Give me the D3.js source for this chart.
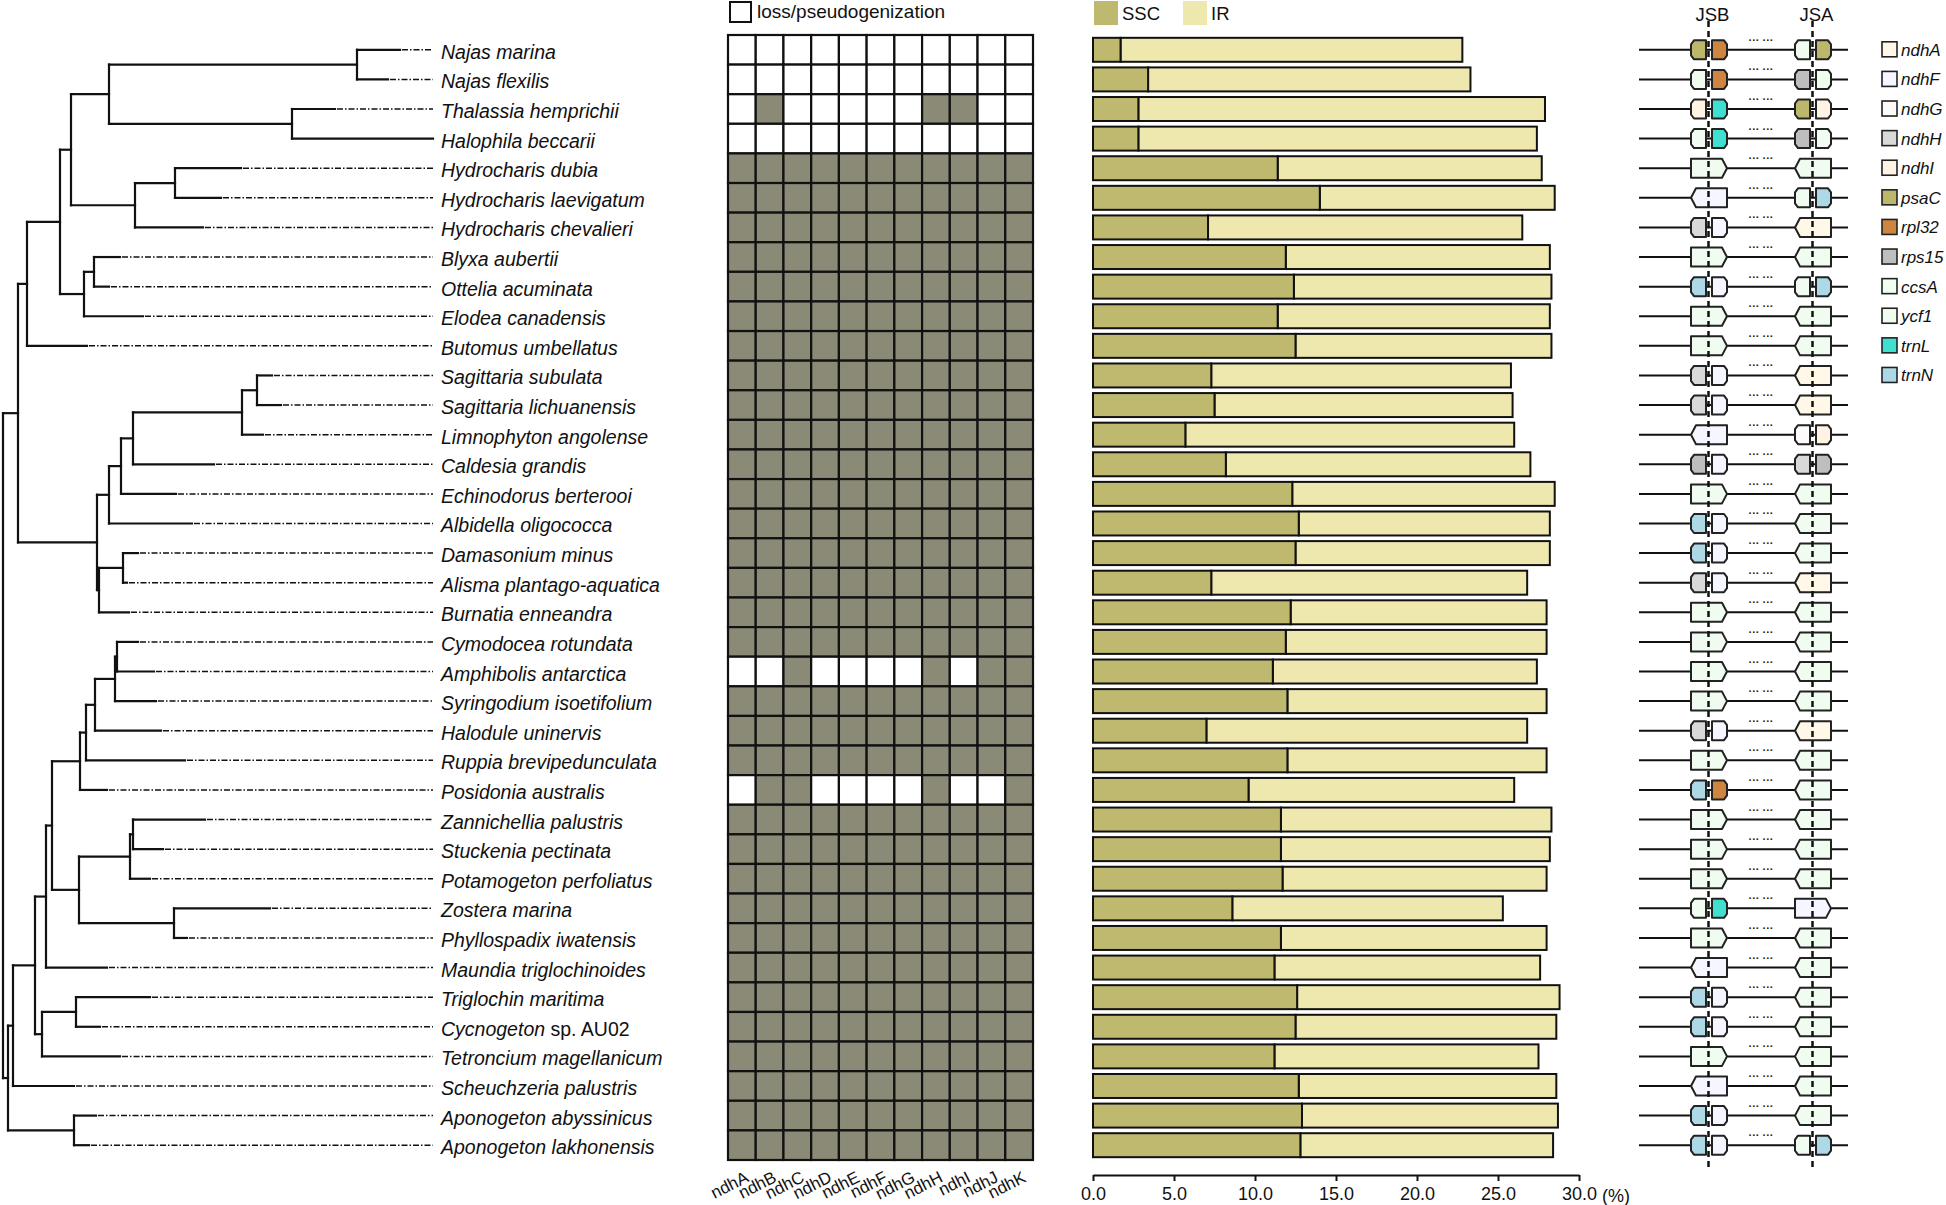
<!DOCTYPE html>
<html>
<head>
<meta charset="utf-8">
<script src="https://cdn.jsdelivr.net/npm/d3@7"></script>
<style>
  body { margin: 0; background: #fff; }
  svg { font-family: "Liberation Sans", Arial, sans-serif; }
</style>
</head>
<body>
<div id="chart"></div>
<script>
// rows, top to bottom
const species = [
  "Najas marina", "Najas flexilis", "Thalassia hemprichii", "Halophila beccarii",
  "Hydrocharis dubia", "Hydrocharis laevigatum", "Hydrocharis chevalieri",
  "Blyxa aubertii", "Ottelia acuminata", "Elodea canadensis", "Butomus umbellatus",
  "Sagittaria subulata", "Sagittaria lichuanensis", "Limnophyton angolense",
  "Caldesia grandis", "Echinodorus berterooi", "Albidella oligococca",
  "Damasonium minus", "Alisma plantago-aquatica", "Burnatia enneandra",
  "Cymodocea rotundata", "Amphibolis antarctica", "Syringodium isoetifolium",
  "Halodule uninervis", "Ruppia brevipedunculata", "Posidonia australis",
  "Zannichellia palustris", "Stuckenia pectinata", "Potamogeton perfoliatus",
  "Zostera marina", "Phyllospadix iwatensis", "Maundia triglochinoides",
  "Triglochin maritima", "Cycnogeton sp. AU02", "Tetroncium magellanicum",
  "Scheuchzeria palustris", "Aponogeton abyssinicus", "Aponogeton lakhonensis"
];

// tree with branch lengths
const newick = "((" +
  "(((((Najas marina:43,Najas flexilis:31):248,(Thalassia hemprichii:43,Halophila beccarii:141):183):38," +
  "((Hydrocharis dubia:66,Hydrocharis laevigatum:46):40,Hydrocharis chevalieri:68):64):11," +
  "((Blyxa aubertii:26,Ottelia acuminata:15):10,Elodea canadensis:59):24):33,Butomus umbellatus:60):9," +
  "((((((Sagittaria subulata:15,Sagittaria lichuanensis:24):15,Limnophyton angolense:21):109,Caldesia grandis:81):12," +
  "Echinodorus berterooi:55):12,Albidella oligococca:83):12," +
  "((Damasonium minus:15,Alisma plantago-aquatica:4):24,Burnatia enneandra:30):2):79):15," +
  "((((((((((Cymodocea rotundata:21,Amphibolis antarctica:37):2,Syringodium isoetifolium:41):20,Halodule uninervis:66):9," +
  "Ruppia brevipedunculata:99):6,Posidonia australis:27):28," +
  "(((Zannichellia palustris:72,Stuckenia pectinata:30):3,Potamogeton perfoliatus:20):51," +
  "(Zostera marina:96,Phyllospadix iwatensis:13):95):27):6,Maundia triglochinoides:61):11," +
  "((Triglochin maritima:74,Cycnogeton sp. AU02:24):34,Tetroncium magellanicum:78):7):22," +
  "Scheuchzeria palustris:61):5,(Aponogeton abyssinicus:22,Aponogeton lakhonensis:15):66):5);";

// ndh genes, 1 = present, 0 = loss/pseudogenization
const ndhGenes = ["ndhA","ndhB","ndhC","ndhD","ndhE","ndhF","ndhG","ndhH","ndhI","ndhJ","ndhK"];
const ndhPresence = [
  "00000000000","00000000000","01000001100","00000000000",
  "11111111111","11111111111","11111111111","11111111111","11111111111",
  "11111111111","11111111111","11111111111","11111111111","11111111111",
  "11111111111","11111111111","11111111111","11111111111","11111111111",
  "11111111111","11111111111","00100001011","11111111111","11111111111",
  "11111111111","01100001001","11111111111","11111111111","11111111111",
  "11111111111","11111111111","11111111111","11111111111","11111111111",
  "11111111111","11111111111","11111111111","11111111111"
];

// percent of plastome
const sscPct = [1.7,3.4,2.8,2.8,11.4,14.0,7.1,11.9,12.4,11.4,12.5,7.3,7.5,5.7,8.2,12.3,12.7,12.5,7.3,12.2,
                11.9,11.1,12.0,7.0,12.0,9.6,11.6,11.6,11.7,8.6,11.6,11.2,12.6,12.5,11.2,12.7,12.9,12.8];
const irPct  = [21.1,19.9,25.1,24.6,16.3,14.5,19.4,16.3,15.9,16.8,15.8,18.5,18.4,20.3,18.8,16.2,15.5,15.7,19.5,15.8,
                16.1,16.3,16.0,19.8,16.0,16.4,16.7,16.6,16.3,16.7,16.4,16.4,16.2,16.1,16.3,15.9,15.8,15.6];
const pctTicks = [0, 5, 10, 15, 20, 25, 30];

// genes at the junctions; "gene>" / "<gene" = one gene spanning the junction
const jsbGenes = [
  ["psaC","rpl32"],["ycf1","rpl32"],["ndhI","trnL"],["ycf1","trnL"],"ycf1>","<ndhF",["ndhH","ndhF"],
  "ycf1>",["trnN","ndhF"],"ycf1>","ycf1>",["ndhH","ndhF"],["ndhH","ndhF"],"<ndhF",["rps15","ndhF"],
  "ycf1>",["trnN","ndhF"],["trnN","ndhF"],["ndhH","ndhF"],"ycf1>","ycf1>","ycf1>","ycf1>",["ndhH","ndhF"],
  "ycf1>",["trnN","rpl32"],"ycf1>","ycf1>","ycf1>",["ycf1","trnL"],"ycf1>","<ndhF",["trnN","ndhF"],
  ["trnN","ndhF"],"ycf1>","<ndhF",["trnN","ndhF"],["trnN","ndhF"]
];
const jsaGenes = [
  ["ycf1","psaC"],["rps15","ycf1"],["psaC","ndhI"],["rps15","ycf1"],"<ycf1",["ycf1","trnN"],"<ndhA",
  "<ycf1",["ycf1","trnN"],"<ycf1","<ycf1","<ndhA","<ndhA",["ndhG","ndhI"],["ndhH","rps15"],
  "<ycf1","<ycf1","<ycf1","<ndhA","<ycf1","<ycf1","<ycf1","<ycf1","<ndhA",
  "<ycf1","<ycf1","<ycf1","<ycf1","<ycf1","ndhF>","<ycf1","<ycf1","<ycf1",
  "<ycf1","<ycf1","<ycf1","<ycf1",["ycf1","trnN"]
];
const legendGenes  = ["ndhA","ndhF","ndhG","ndhH","ndhI","psaC","rpl32","rps15","ccsA","ycf1","trnL","trnN"];
const legendColors = ["#fff7e8","#f5f6ff","#fffafa","#d9d9d9","#fff4e3","#bdb76b","#cd853f","#bebebe","#f0fff0","#f1fcf1","#40e0d0","#add8e6"];

const W = 1946, H = 1205;
const svg = d3.select("#chart").append("svg").attr("width", W).attr("height", H);
svg.append("rect").attr("width", W).attr("height", H).attr("fill", "#fff");

const rowScale = d3.scaleBand().domain(species).range([35, 1160]);
const barScale = d3.scaleBand().domain(species).range([35, 1160]).paddingInner(0.19).paddingOuter(0.095);
const rowY = s => rowScale(s) + rowScale.bandwidth() / 2;

// ---------- tree ----------
function parseNewick(s) {
  let i = 0;
  function node() {
    const n = {};
    if (s[i] === "(") {
      n.children = [];
      i++;
      n.children.push(node());
      while (s[i] === ",") { i++; n.children.push(node()); }
      i++;
    }
    let name = "";
    while (i < s.length && !":,();".includes(s[i])) name += s[i++];
    n.name = name.trim();
    if (s[i] === ":") {
      i++;
      let num = "";
      while (i < s.length && !",();".includes(s[i])) num += s[i++];
      n.length = +num;
    }
    return n;
  }
  return node();
}

const root = d3.hierarchy(parseNewick(newick));
root.eachBefore(d => d.len = (d.parent ? d.parent.len : 0) + (d.data.length || 0));
root.eachAfter(d => {
  d.yy = d.children ? (d.children[0].yy + d.children[d.children.length - 1].yy) / 2 : rowY(d.data.name);
});
const maxLen = d3.max(root.leaves(), d => d.len);
const treeX = d3.scaleLinear().domain([0, maxLen]).range([3, 433]);

const gTree = svg.append("g");
gTree.selectAll("path.h").data(root.descendants().filter(d => d.parent)).enter()
  .append("path")
  .attr("d", d => `M${treeX(d.parent.len)},${d.yy}H${treeX(d.len)}`)
  .attr("stroke", "#111").attr("stroke-width", 2.2).attr("fill", "none").attr("stroke-linecap", "square");
gTree.selectAll("path.v").data(root.descendants().filter(d => d.children)).enter()
  .append("path")
  .attr("d", d => `M${treeX(d.len)},${d.children[0].yy}V${d.children[d.children.length - 1].yy}`)
  .attr("stroke", "#111").attr("stroke-width", 2.2).attr("fill", "none").attr("stroke-linecap", "square");
gTree.selectAll("path.ext").data(root.leaves().filter(d => d.len < maxLen)).enter()
  .append("path")
  .attr("d", d => `M${treeX(d.len) + 2},${d.yy}H${treeX(maxLen)}`)
  .attr("stroke", "#111").attr("stroke-width", 1.5).attr("fill", "none")
  .attr("stroke-dasharray", "6,2,1.5,2");

const labels = gTree.selectAll("text.sp").data(species).enter()
  .append("text")
  .attr("x", 441).attr("y", d => rowY(d) + 9)
  .attr("font-size", 19.5).attr("fill", "#111");
labels.each(function(d) {
  const t = d3.select(this);
  const m = d.match(/^(.*?)( sp\. .*)$/);
  if (m) {
    t.append("tspan").attr("font-style", "italic").text(m[1]);
    t.append("tspan").text(m[2]);
  } else {
    t.append("tspan").attr("font-style", "italic").text(d);
  }
});

// ---------- ndh heatmap ----------
const colScale = d3.scaleBand().domain(ndhGenes).range([728, 1033]);
const cells = [];
species.forEach((s, i) => ndhGenes.forEach((g, j) => cells.push({s, g, v: ndhPresence[i][j] === "1"})));
svg.append("g").selectAll("rect").data(cells).enter()
  .append("rect")
  .attr("x", d => colScale(d.g)).attr("y", d => rowScale(d.s))
  .attr("width", colScale.bandwidth()).attr("height", rowScale.bandwidth())
  .attr("fill", d => d.v ? "#8a8a77" : "#fff")
  .attr("stroke", "#111").attr("stroke-width", 2.2);

svg.append("g").selectAll("text").data(ndhGenes).enter()
  .append("text")
  .attr("transform", d => `translate(${colScale(d) + colScale.bandwidth() / 2 + 8},1181) rotate(-27)`)
  .attr("text-anchor", "end").attr("font-size", 17).attr("fill", "#111")
  .text(d => d);

svg.append("rect").attr("x", 730).attr("y", 2).attr("width", 21).attr("height", 20)
  .attr("fill", "#fff").attr("stroke", "#111").attr("stroke-width", 2);
svg.append("text").attr("x", 757).attr("y", 18).attr("font-size", 19).attr("fill", "#111")
  .text("loss/pseudogenization");

// ---------- SSC / IR bars ----------
const sscColor = "#bfb86f", irColor = "#eee8af";
const xBar = d3.scaleLinear().domain([0, 30]).range([1093, 1579]);
const gBar = svg.append("g");
gBar.selectAll("rect.ir").data(species).enter()
  .append("rect")
  .attr("x", (d, i) => xBar(sscPct[i])).attr("y", d => barScale(d))
  .attr("width", (d, i) => xBar(sscPct[i] + irPct[i]) - xBar(sscPct[i]))
  .attr("height", barScale.bandwidth())
  .attr("fill", irColor).attr("stroke", "#111").attr("stroke-width", 2);
gBar.selectAll("rect.ssc").data(species).enter()
  .append("rect")
  .attr("x", xBar(0)).attr("y", d => barScale(d))
  .attr("width", (d, i) => xBar(sscPct[i]) - xBar(0))
  .attr("height", barScale.bandwidth())
  .attr("fill", sscColor).attr("stroke", "#111").attr("stroke-width", 2);

const axis = svg.append("g")
  .attr("transform", "translate(0,1175)")
  .call(d3.axisBottom(xBar).tickValues(pctTicks).tickFormat(d3.format(".1f")).tickSize(6).tickSizeOuter(0));
axis.select(".domain").attr("stroke", "#111").attr("stroke-width", 2);
axis.selectAll(".tick line").attr("stroke", "#111").attr("stroke-width", 2);
axis.selectAll(".tick text").attr("font-size", 18).attr("fill", "#111")
  .attr("font-family", "Liberation Sans, Arial, sans-serif").attr("dy", "0.9em");
svg.append("text").attr("x", xBar(30) + 23).attr("y", 1202).attr("font-size", 18).attr("fill", "#111").text("(%)");

svg.append("rect").attr("x", 1094).attr("y", 1).attr("width", 24).attr("height", 24).attr("fill", sscColor);
svg.append("text").attr("x", 1122).attr("y", 20).attr("font-size", 18.5).attr("fill", "#111").text("SSC");
svg.append("rect").attr("x", 1183).attr("y", 1).attr("width", 24).attr("height", 24).attr("fill", irColor);
svg.append("text").attr("x", 1211).attr("y", 20).attr("font-size", 18.5).attr("fill", "#111").text("IR");

// ---------- junction diagram ----------
const colorOf = g => legendColors[legendGenes.indexOf(g)];
const jsbX = 1708.5, jsaX = 1812.5, boxH = 19;
const gJ = svg.append("g");

function boxPath(x0, x1, y, h, L, R) {
  const t = y - h / 2, b = y + h / 2;
  return `M${x0 + L[0]},${t}L${x1 - R[0]},${t}L${x1},${t + R[1]}L${x1},${b - R[1]}L${x1 - R[0]},${b}` +
         `L${x0 + L[0]},${b}L${x0},${b - L[1]}L${x0},${t + L[1]}Z`;
}
const flat = [0, 0], cut = [3, 4], tip = [5, boxH / 2];

function drawJunction(spec, jx, y) {
  const shapes = [];
  if (Array.isArray(spec)) {
    shapes.push({g: spec[0], x0: jx - 17.5, x1: jx - 2.5, L: cut, R: flat});
    shapes.push({g: spec[1], x0: jx + 3.5, x1: jx + 18.5, L: flat, R: cut});
  } else if (spec.endsWith(">")) {
    shapes.push({g: spec.slice(0, -1), x0: jx - 17.5, x1: jx + 18.5, L: flat, R: tip});
  } else {
    shapes.push({g: spec.slice(1), x0: jx - 17.5, x1: jx + 18.5, L: tip, R: flat});
  }
  shapes.forEach(s => {
    gJ.append("path").attr("d", boxPath(s.x0, s.x1, y, boxH, s.L, s.R))
      .attr("fill", colorOf(s.g)).attr("stroke", "#222").attr("stroke-width", 2)
      .attr("stroke-linejoin", "round");
  });
}

species.forEach((s, i) => {
  const y = rowY(s);
  gJ.append("line").attr("x1", 1639).attr("x2", 1848).attr("y1", y).attr("y2", y)
    .attr("stroke", "#111").attr("stroke-width", 2);
  gJ.append("text").attr("x", 1761).attr("y", y - 6).attr("text-anchor", "middle")
    .attr("font-size", 11).attr("font-weight", "bold").attr("fill", "#222").text("··· ···");
  drawJunction(jsbGenes[i], jsbX, y);
  drawJunction(jsaGenes[i], jsaX, y);
});

[jsbX, jsaX].forEach(x => {
  gJ.append("line").attr("x1", x).attr("x2", x).attr("y1", 21).attr("y2", 1170)
    .attr("stroke", "#111").attr("stroke-width", 2.5).attr("stroke-dasharray", "6,4");
});
gJ.append("text").attr("x", jsbX + 4).attr("y", 21).attr("text-anchor", "middle").attr("font-size", 18.5).attr("fill", "#111").text("JSB");
gJ.append("text").attr("x", jsaX + 4).attr("y", 21).attr("text-anchor", "middle").attr("font-size", 18.5).attr("fill", "#111").text("JSA");

const gLeg = svg.append("g");
legendGenes.forEach((g, i) => {
  const y = rowY(species[i]);
  gLeg.append("rect").attr("x", 1882).attr("y", y - 8).attr("width", 15).attr("height", 15)
    .attr("fill", legendColors[i]).attr("stroke", "#222").attr("stroke-width", 1.6);
  gLeg.append("text").attr("x", 1901).attr("y", y + 6).attr("font-size", 17)
    .attr("font-style", "italic").attr("fill", "#111").text(g);
});
</script>
</body>
</html>
